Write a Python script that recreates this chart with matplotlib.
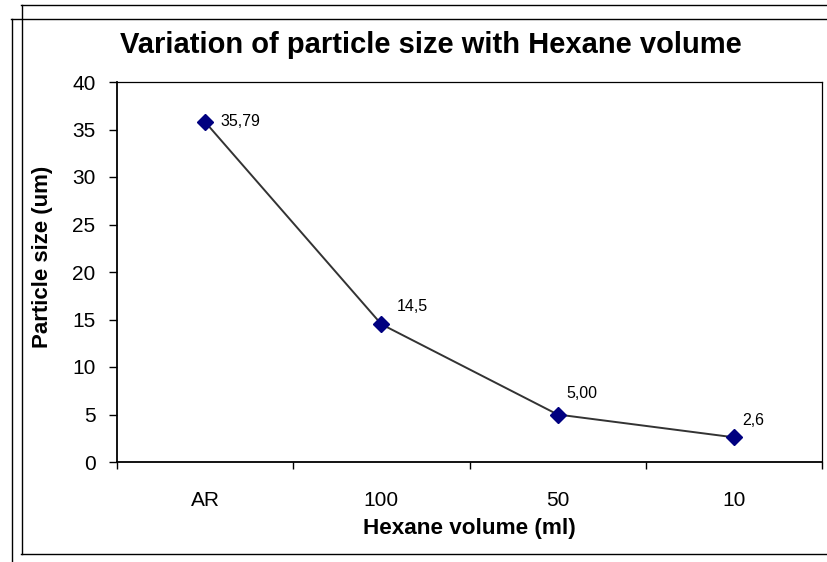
import matplotlib.pyplot as plt
from matplotlib.lines import Line2D

plt.rcParams['font.family'] = ['Liberation Sans', 'DejaVu Sans']

# data
categories = ['AR', '100', '50', '10']
sizes = [35.79, 14.5, 5.0, 2.6]
point_labels = ['35,79', '14,5', '5,00', '2,6']
label_offsets = [(11, 0), (11, 13), (6, 15), (6, 12)]   # points, per label

W, H = 827, 562
fig = plt.figure(figsize=(W / 100, H / 100), dpi=100)

# frames of the spreadsheet chart area
def hline(y, x0, x1):
    fig.add_artist(Line2D([x0 / W, x1 / W], [1 - y / H, 1 - y / H], color='black', lw=1.0))

def vline(x, y0, y1):
    fig.add_artist(Line2D([x / W, x / W], [1 - y0 / H, 1 - y1 / H], color='black', lw=1.0))

hline(4.5, 21, W)
hline(18.5, 11, W)
vline(11.5, 18.5, H)
vline(21.5, 4.5, 554)
hline(554, 21, W)

ax = fig.add_axes([117 / W, 1 - 462 / H, (822 - 117) / W, (462 - 82) / H])

x = list(range(len(categories)))
ax.plot(x, sizes, color='#333333', lw=1.4, marker='D', markersize=8,
        markerfacecolor='#000080', markeredgecolor='#000080', zorder=3)

for xi, yi, txt, off in zip(x, sizes, point_labels, label_offsets):
    ax.annotate(txt, (xi, yi), xytext=off, textcoords='offset points',
                fontsize=11.5, ha='left', va='center')

ax.set_xlim(-0.5, len(categories) - 0.5)
ax.set_ylim(0, 40)
ax.set_yticks(range(0, 41, 5))

# ticks at category boundaries, labels at centres
ax.set_xticks([i - 0.5 for i in range(len(categories) + 1)])
ax.set_xticklabels([])
ax.set_xticks(x, minor=True)
ax.set_xticklabels(categories, minor=True)
ax.tick_params(axis='x', which='major', direction='out', length=5, width=1)
ax.tick_params(axis='x', which='minor', length=0, pad=21, labelsize=15)
ax.tick_params(axis='y', direction='out', length=5.5, width=1, pad=10, labelsize=15)

for s in ['left', 'bottom']:
    ax.spines[s].set_linewidth(1.3)
for s in ['top', 'right']:
    ax.spines[s].set_linewidth(0.9)

fig.text(431 / W, 1 - 53 / H, 'Variation of particle size with Hexane volume',
         fontsize=21, fontweight='bold', ha='center', va='baseline')
ax.set_xlabel('Hexane volume (ml)', fontsize=16.2, fontweight='bold', va='center')
ax.xaxis.set_label_coords(0.5, -0.176)
ax.set_ylabel('Particle size (um)', fontsize=16, fontweight='bold', va='center')
ax.yaxis.set_label_coords(-0.105, 0.54)

fig.savefig('out.png', dpi=100)
